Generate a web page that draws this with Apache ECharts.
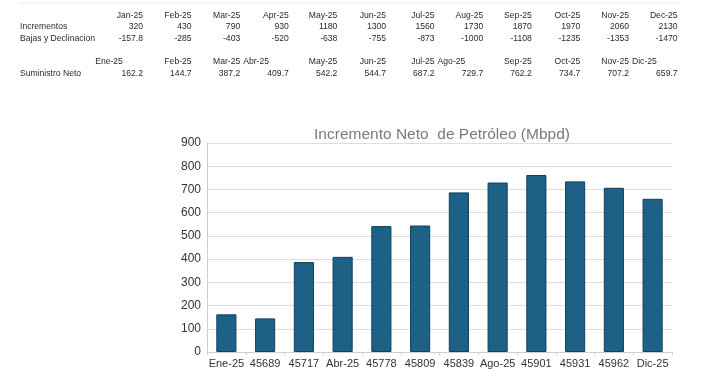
<!DOCTYPE html>
<html><head><meta charset="utf-8">
<script src="https://cdn.jsdelivr.net/npm/echarts@6/dist/echarts.min.js"></script>
<style>html,body{margin:0;padding:0;background:#fff}#c{width:720px;height:378px}</style>
</head><body><div id="c"></div>
<script>
// ---- data ----
var months = ['Jan-25','Feb-25','Mar-25','Apr-25','May-25','Jun-25','Jul-25','Aug-25','Sep-25','Oct-25','Nov-25','Dec-25'];
var incrementos = [320,430,790,930,1180,1300,1560,1730,1870,1970,2060,2130];
var bajas = ['-157.8','-285','-403','-520','-638','-755','-873','-1000','-1108','-1235','-1353','-1470'];
var mesesEs = ['Ene-25','Feb-25','Mar-25','Abr-25','May-25','Jun-25','Jul-25','Ago-25','Sep-25','Oct-25','Nov-25','Dic-25'];
var suministro = ['162.2','144.7','387.2','409.7','542.2','544.7','687.2','729.7','762.2','734.7','707.2','659.7'];
var categories = ['Ene-25','45689','45717','Abr-25','45778','45809','45839','Ago-25','45901','45931','45962','Dic-25'];
var netValues = [162.2,144.7,387.2,409.7,542.2,544.7,687.2,729.7,762.2,734.7,707.2,659.7];
var rowLabels = ['Incrementos','Bajas y Declinacion','Suministro Neto'];

// ---- table layout (styles/positions) ----
var colRight = function(i){ return 143 + i*48.6; };
var tfont = '8.6px "Liberation Sans", Arial, sans-serif';
var tcol = '#2a2a2a';
var g = [];
g.push({type:'line', shape:{x1:20,y1:3,x2:680,y2:3}, style:{stroke:'#e8e8e8',lineWidth:1}});
function txt(x,y,s,align){ g.push({type:'text', x:x, y:y, style:{text:s, font:tfont, fill:tcol, align:align||'right', verticalAlign:'middle'}}); }
txt(20,27,rowLabels[0],'left');
txt(20,39,rowLabels[1],'left');
txt(20,74,rowLabels[2],'left');
for (var i=0;i<12;i++){
  var xr = colRight(i);
  txt(xr,16,months[i]);
  txt(xr,27,String(incrementos[i]));
  txt(xr,39,bajas[i]);
  txt(xr,74,suministro[i]);
  // second header alignment quirks as in the spreadsheet
  var a = 'right', x = xr;
  if (i===0){ a='center'; x=109; }
  else if (i===3 || i===7 || i===11){ a='left'; x=colRight(i-1)+3; }
  txt(x,62,mesesEs[i],a);
}

var chart = echarts.init(document.getElementById('c'), null, {renderer:'canvas'});
chart.setOption({
  animation:false,
  backgroundColor:'#fff',
  title:{text:'Incremento Neto  de Petróleo (Mbpd)', left:437, top:122, textAlign:'center',
    textStyle:{fontFamily:'Liberation Sans, Arial, sans-serif', fontSize:15.5, fontWeight:'normal', color:'#7a7a7a'}},
  graphic:g,
  grid:{left:207, right:48, top:143, bottom:26},
  xAxis:{type:'category', data:categories,
    axisLine:{lineStyle:{color:'#cfcfcf'}},
    axisTick:{show:true, length:3, lineStyle:{color:'#cfcfcf'}},
    axisLabel:{color:'#333', fontSize:11, fontFamily:'Liberation Sans, Arial, sans-serif', margin:6, interval:0}},
  yAxis:{type:'value', min:0, max:900, interval:100,
    axisLine:{show:true, lineStyle:{color:'#cfcfcf'}},
    axisTick:{show:false},
    splitLine:{lineStyle:{color:'#dedede'}},
    axisLabel:{color:'#333', fontSize:12, fontFamily:'Liberation Sans, Arial, sans-serif', margin:6}},
  series:[{type:'bar', data:netValues, barCategoryGap:'48%',
    itemStyle:{color:'#1d6186', borderColor:'#153f5a', borderWidth:1}}]
});
</script></body></html>
